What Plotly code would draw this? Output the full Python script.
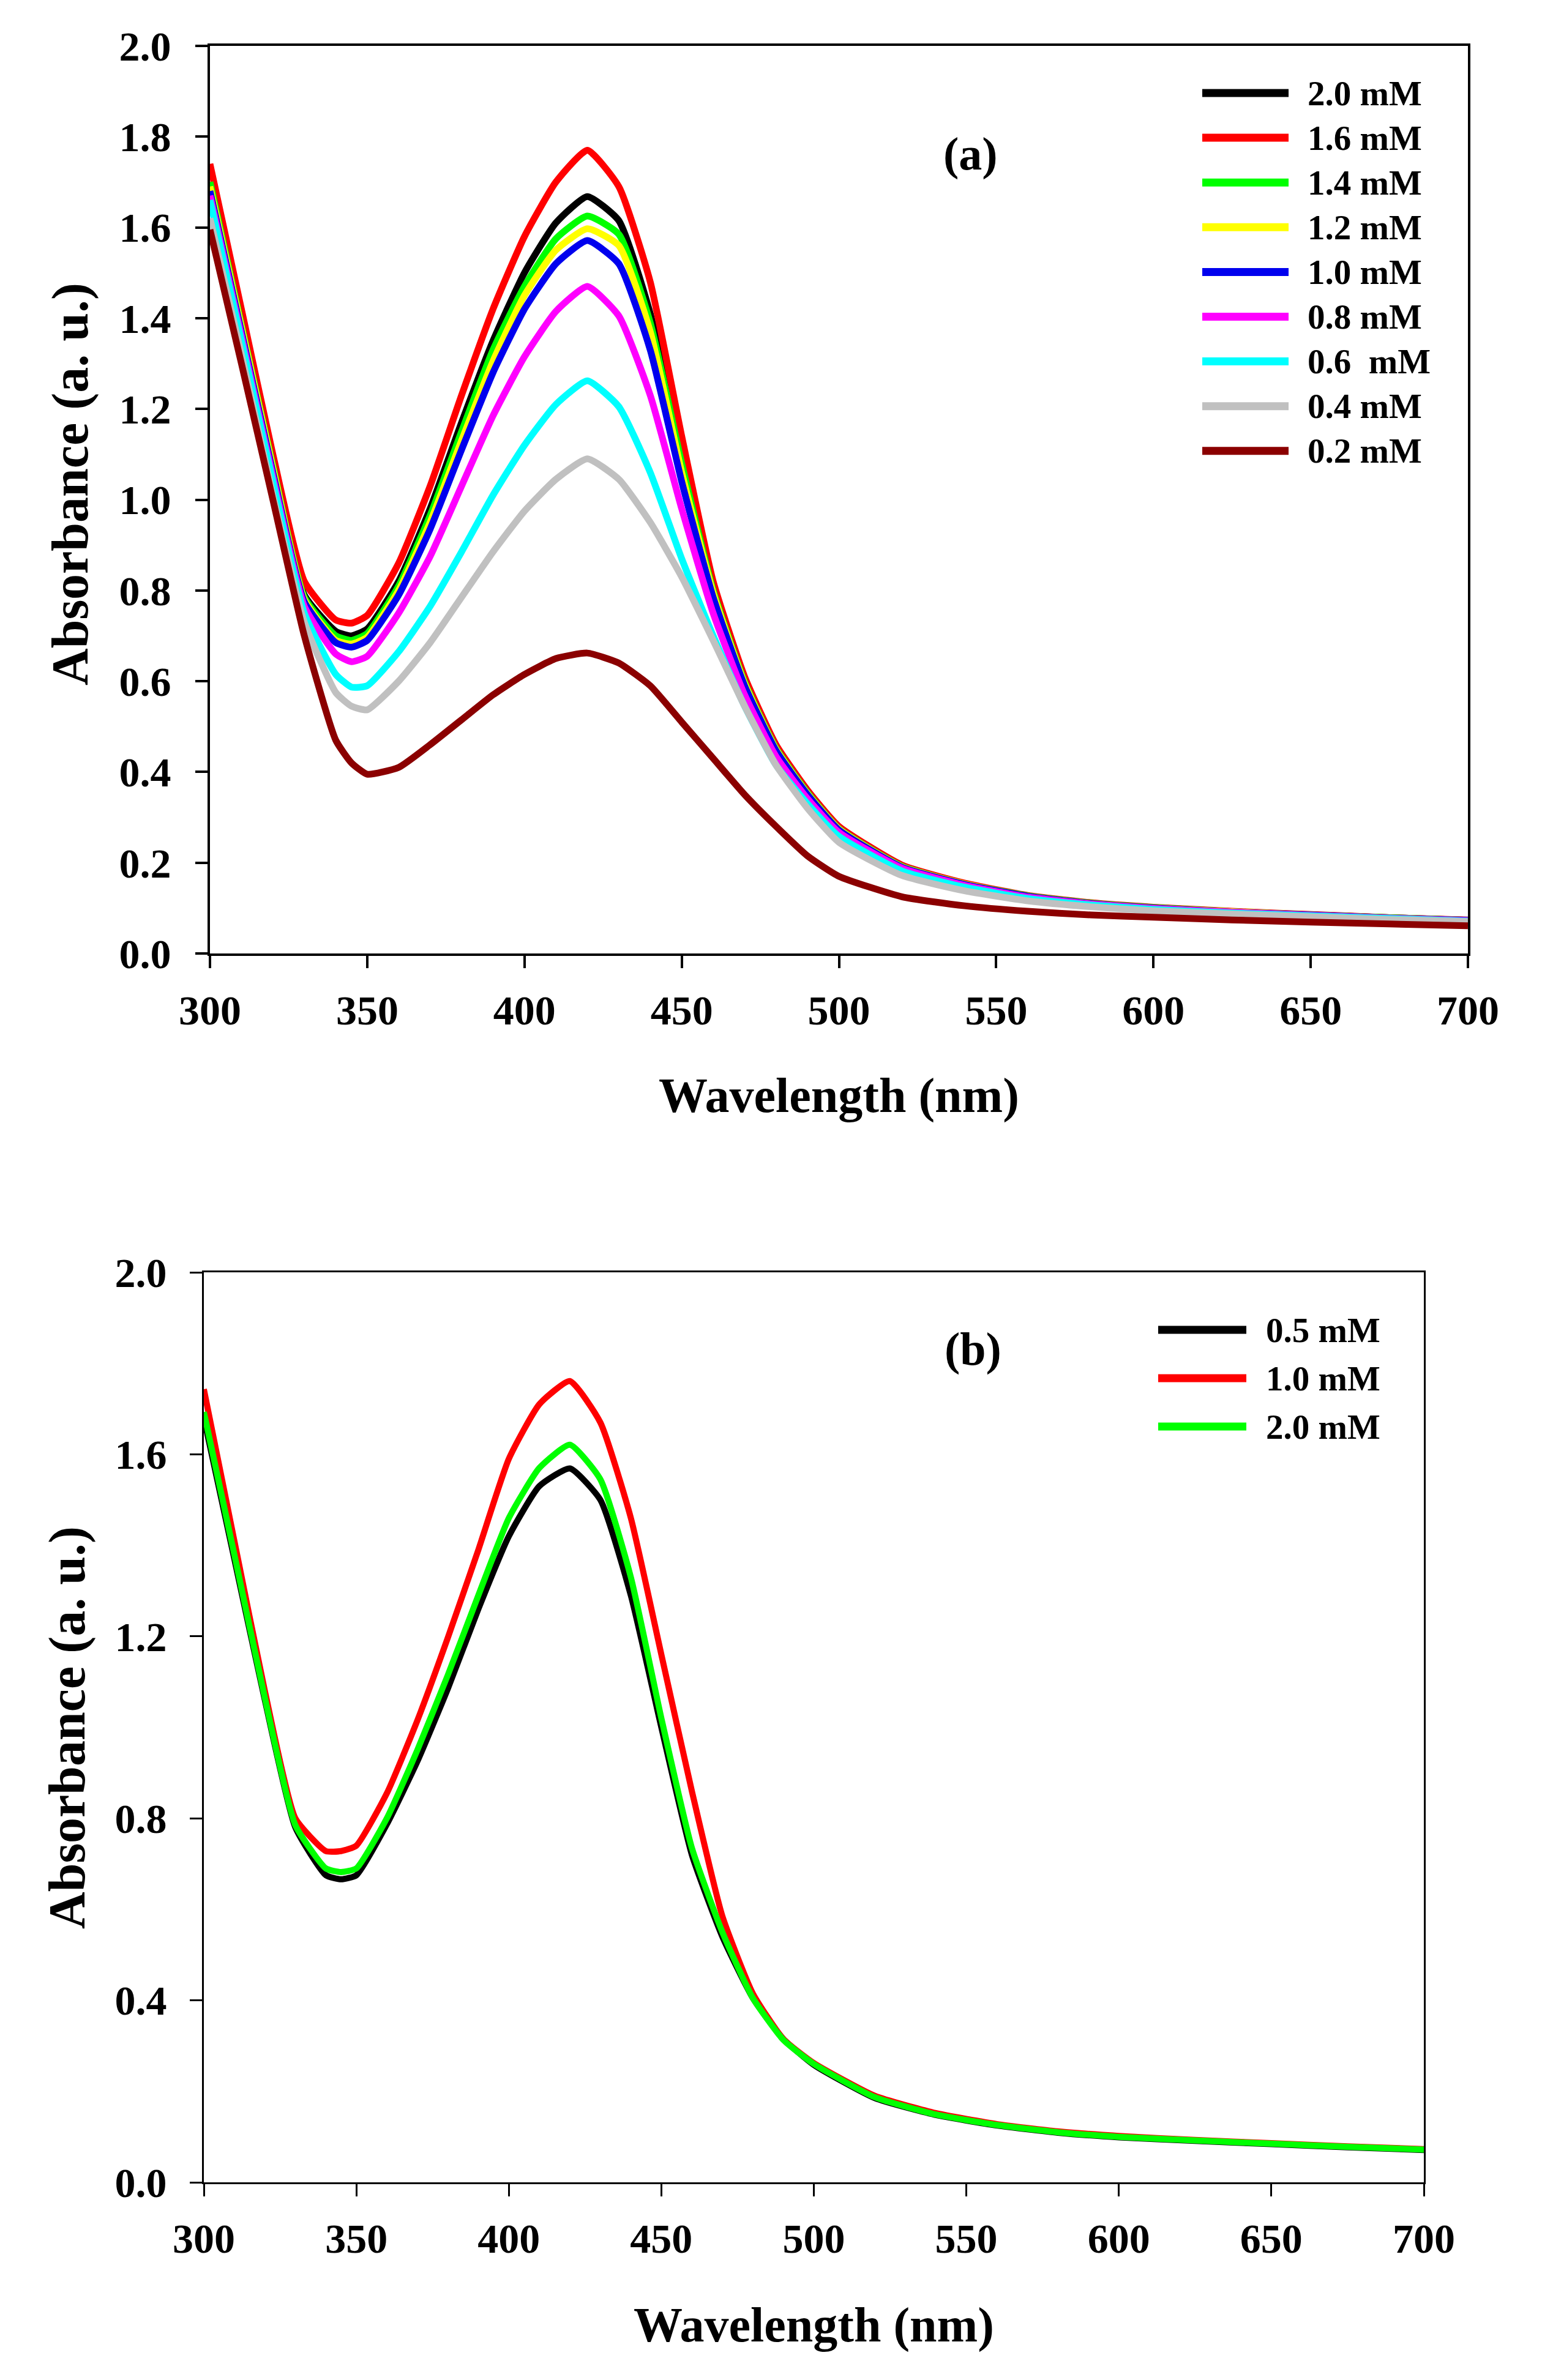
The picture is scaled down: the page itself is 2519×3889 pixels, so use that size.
import plotly.graph_objects as go

# wavelength grid (nm)
wl = [300, 310, 320, 330, 340, 345, 350, 360, 370, 380, 390, 400, 410, 420, 430,
      440, 450, 460, 470, 480, 490, 500, 520, 540, 560, 580, 600, 625, 650, 675, 700]

# panel (a) absorbance values
a_20 = [1.70, 1.39, 1.08, 0.79, 0.71, 0.70, 0.715, 0.82, 0.98, 1.17, 1.35, 1.50, 1.61, 1.668, 1.615,
        1.41, 1.10, 0.805, 0.602, 0.455, 0.356, 0.277, 0.193, 0.154, 0.127, 0.111, 0.101, 0.092, 0.085, 0.079, 0.073]
a_16 = [1.74, 1.42, 1.10, 0.82, 0.735, 0.728, 0.745, 0.86, 1.03, 1.23, 1.42, 1.58, 1.70, 1.77, 1.69,
        1.48, 1.14, 0.82, 0.61, 0.46, 0.36, 0.28, 0.195, 0.155, 0.128, 0.112, 0.102, 0.093, 0.086, 0.079, 0.074]
a_14 = [1.70, 1.385, 1.075, 0.785, 0.70, 0.69, 0.705, 0.81, 0.965, 1.15, 1.33, 1.47, 1.575, 1.625, 1.585,
        1.39, 1.08, 0.80, 0.598, 0.452, 0.354, 0.275, 0.192, 0.153, 0.127, 0.111, 0.101, 0.092, 0.085, 0.079, 0.073]
a_12 = [1.69, 1.38, 1.07, 0.78, 0.69, 0.682, 0.697, 0.80, 0.95, 1.13, 1.305, 1.45, 1.55, 1.597, 1.56,
        1.37, 1.06, 0.795, 0.595, 0.45, 0.352, 0.274, 0.191, 0.153, 0.126, 0.110, 0.100, 0.092, 0.085, 0.078, 0.073]
a_10 = [1.68, 1.37, 1.06, 0.775, 0.685, 0.675, 0.69, 0.79, 0.935, 1.11, 1.28, 1.42, 1.52, 1.571, 1.52,
        1.33, 1.04, 0.785, 0.59, 0.447, 0.35, 0.272, 0.19, 0.152, 0.126, 0.110, 0.100, 0.091, 0.085, 0.078, 0.073]
a_08 = [1.67, 1.36, 1.05, 0.765, 0.66, 0.643, 0.655, 0.75, 0.875, 1.03, 1.185, 1.315, 1.415, 1.47, 1.405,
        1.23, 0.98, 0.75, 0.57, 0.434, 0.341, 0.267, 0.188, 0.150, 0.124, 0.109, 0.099, 0.091, 0.084, 0.078, 0.072]
a_06 = [1.66, 1.35, 1.04, 0.75, 0.615, 0.587, 0.59, 0.665, 0.765, 0.885, 1.01, 1.12, 1.21, 1.262, 1.205,
        1.06, 0.87, 0.70, 0.545, 0.415, 0.33, 0.258, 0.182, 0.146, 0.121, 0.107, 0.097, 0.089, 0.083, 0.077, 0.071]
a_04 = [1.62, 1.32, 1.01, 0.73, 0.575, 0.545, 0.537, 0.60, 0.685, 0.785, 0.885, 0.975, 1.045, 1.09, 1.045,
        0.95, 0.83, 0.69, 0.545, 0.415, 0.32, 0.245, 0.172, 0.138, 0.116, 0.103, 0.094, 0.087, 0.081, 0.075, 0.070]
a_02 = [1.595, 1.30, 1.00, 0.70, 0.47, 0.42, 0.395, 0.41, 0.46, 0.515, 0.57, 0.615, 0.65, 0.662, 0.64,
        0.59, 0.51, 0.43, 0.35, 0.28, 0.215, 0.17, 0.125, 0.105, 0.093, 0.085, 0.080, 0.074, 0.069, 0.065, 0.061]

a_labels = ["2.0 mM", "1.6 mM", "1.4 mM", "1.2 mM", "1.0 mM", "0.8 mM", "0.6  mM", "0.4 mM", "0.2 mM"]
a_series = [a_20, a_16, a_14, a_12, a_10, a_08, a_06, a_04, a_02]
a_colors = ["#000000", "#FF0000", "#00FF00", "#FFFF00", "#0000EE", "#FF00FF", "#00FFFF", "#C0C0C0", "#8B0000"]

# panel (b) absorbance values
b_05 = [1.68, 1.37, 1.06, 0.78, 0.675, 0.666, 0.675, 0.787, 0.925, 1.085, 1.26, 1.42, 1.53, 1.569, 1.50,
        1.29, 1.00, 0.72, 0.54, 0.405, 0.315, 0.258, 0.185, 0.148, 0.125, 0.109, 0.099, 0.091, 0.084, 0.077, 0.071]
b_10 = [1.743, 1.41, 1.08, 0.80, 0.728, 0.728, 0.74, 0.855, 1.015, 1.197, 1.39, 1.59, 1.71, 1.761, 1.67,
        1.46, 1.16, 0.86, 0.585, 0.415, 0.315, 0.262, 0.19, 0.152, 0.128, 0.112, 0.102, 0.093, 0.086, 0.079, 0.073]
b_20 = [1.693, 1.38, 1.065, 0.785, 0.69, 0.682, 0.69, 0.80, 0.95, 1.115, 1.29, 1.46, 1.57, 1.621, 1.545,
        1.33, 1.02, 0.735, 0.55, 0.405, 0.313, 0.26, 0.187, 0.149, 0.126, 0.110, 0.100, 0.092, 0.085, 0.078, 0.072]

b_labels = ["0.5 mM", "1.0 mM", "2.0 mM"]
b_series = [b_05, b_10, b_20]
b_colors = ["#000000", "#FF0000", "#00FF00"]

W, H = 2519, 3889
FONT = "Liberation Serif"


def px(x):
    return (x - 5) / W


def py(y):
    return 1 - (y - 7) / H


fig = go.Figure()

for name, ys, col in zip(a_labels, a_series, a_colors):
    fig.add_trace(go.Scatter(x=wl, y=ys, name=name, mode="lines", xaxis="x", yaxis="y",
                             line=dict(color=col, width=11, shape="spline", smoothing=0.5)))

for name, ys, col in zip(b_labels, b_series, b_colors):
    fig.add_trace(go.Scatter(x=wl, y=ys, name=name, mode="lines", xaxis="x2", yaxis="y2",
                             line=dict(color=col, width=10, shape="spline", smoothing=0.5)))


def axis(domain, anchor, rng, dtick, lw, standoff, fmt=None):
    d = dict(domain=domain, anchor=anchor, range=rng, tick0=rng[0], dtick=dtick,
             ticks="outside", ticklen=20, tickwidth=lw, tickcolor="black",
             showline=True, linewidth=lw, linecolor="black", mirror=True,
             showgrid=False, zeroline=False, automargin=False, ticklabelstandoff=standoff,
             tickfont=dict(family=FONT, size=68, color="black", weight="bold"))
    if fmt:
        d["tickformat"] = fmt
    return d


fig.update_layout(
    width=W, height=H,
    margin=dict(l=0, r=0, t=0, b=0),
    paper_bgcolor="white", plot_bgcolor="white",
    showlegend=False,
    xaxis=axis([px(340), px(2395)], "y", [300, 700], 50, 4, 10),
    yaxis=axis([py(1557), py(74)], "x", [0, 2.0], 0.2, 4, 26, ".1f"),
    xaxis2=axis([px(330), px(2323)], "y2", [300, 700], 50, 3, 10),
    yaxis2=axis([py(3565), py(2078)], "x2", [0, 2.0], 0.4, 3, 24, ".1f"),
)

title_font = dict(family=FONT, size=80, color="black", weight="bold")
ytitle_font = dict(family=FONT, size=84, color="black", weight="bold")
ann = []
# axis titles
ann.append(dict(text="Wavelength (nm)", x=px(1368), y=py(1790), xref="paper", yref="paper",
                showarrow=False, xanchor="center", yanchor="middle", font=title_font))
ann.append(dict(text="Absorbance (a. u.)", x=px(112), y=py(790), xref="paper", yref="paper",
                showarrow=False, xanchor="center", yanchor="middle", textangle=-90, font=ytitle_font))
ann.append(dict(text="Wavelength (nm)", x=px(1326), y=py(3798), xref="paper", yref="paper",
                showarrow=False, xanchor="center", yanchor="middle", font=title_font))
ann.append(dict(text="Absorbance (a. u.)", x=px(107), y=py(2822), xref="paper", yref="paper",
                showarrow=False, xanchor="center", yanchor="middle", textangle=-90, font=ytitle_font))
# panel labels
ann.append(dict(text="(a)", x=px(1582), y=py(250), xref="paper", yref="paper", showarrow=False,
                xanchor="center", yanchor="middle", font=dict(family=FONT, size=76, color="black", weight="bold")))
ann.append(dict(text="(b)", x=px(1587), y=py(2203), xref="paper", yref="paper", showarrow=False,
                xanchor="center", yanchor="middle", font=dict(family=FONT, size=76, color="black", weight="bold")))

# hand-made legends (long line samples like the original)
shapes = []
leg_font = dict(family=FONT, size=57, color="black", weight="bold")
for i, (name, col) in enumerate(zip(a_labels, a_colors)):
    yy = py(151 + i * 73.1)
    shapes.append(dict(type="line", xref="paper", yref="paper", x0=px(1961), x1=px(2102), y0=yy, y1=yy,
                       line=dict(color=col, width=13)))
    ann.append(dict(text=name, x=px(2131), y=yy, xref="paper", yref="paper", showarrow=False,
                    xanchor="left", yanchor="middle", font=leg_font))
for i, (name, col) in enumerate(zip(b_labels, b_colors)):
    yy = py(2172 + i * 79)
    shapes.append(dict(type="line", xref="paper", yref="paper", x0=px(1889), x1=px(2033), y0=yy, y1=yy,
                       line=dict(color=col, width=13)))
    ann.append(dict(text=name, x=px(2063), y=yy, xref="paper", yref="paper", showarrow=False,
                    xanchor="left", yanchor="middle", font=leg_font))

fig.update_layout(annotations=ann, shapes=shapes)

fig.write_html("out.html")
